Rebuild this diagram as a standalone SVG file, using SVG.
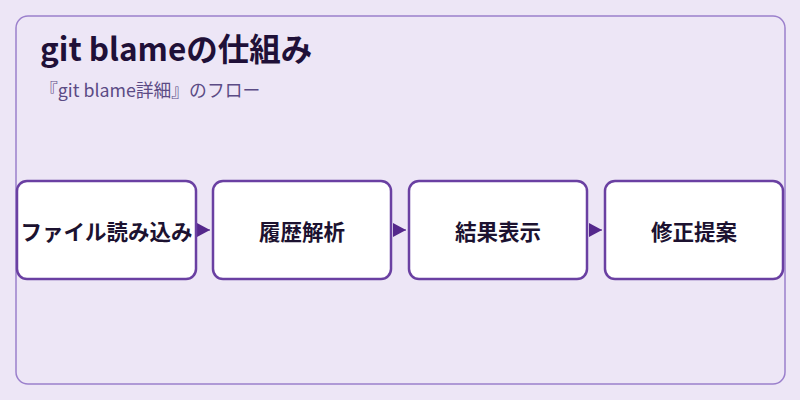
<svg xmlns="http://www.w3.org/2000/svg" width="800" height="400" viewBox="0 0 800 400">
<style>
.node rect{fill:#ffffff;stroke:#6a40a2;stroke-width:2.5}
.node text{font-family:"Noto Sans CJK JP","Noto Sans",sans-serif;font-size:21.5px;font-weight:bold;fill:#1c1230;text-anchor:middle;dominant-baseline:central}
.conn line{stroke:#55288c;stroke-width:1}
</style>
<defs>
<marker id="arr" viewBox="0 0 13 14" refX="13" refY="7" markerWidth="13" markerHeight="14" markerUnits="userSpaceOnUse" orient="auto">
<path d="M0,0 L13,7 L0,14 Z" fill="#55288c"/>
</marker>
</defs>
<rect x="0" y="0" width="800" height="400" fill="#ede6f6"/>
<rect x="16" y="16" width="769" height="368" rx="12" fill="#ede6f6" stroke="#9b80cc" stroke-width="1.5"/>
<text x="40" y="61" font-family="Noto Sans CJK JP,'Noto Sans',sans-serif" font-size="31.5" font-weight="bold" fill="#1f1038">git blameの仕組み</text>
<text x="40" y="97" font-family="Noto Sans CJK JP,'Noto Sans',sans-serif" font-size="17.8" fill="#5b4b85">『git blame詳細』のフロー</text>
<g class="conn">
<line x1="197" y1="230" x2="210" y2="230" marker-end="url(#arr)"/>
<line x1="393" y1="230" x2="406" y2="230" marker-end="url(#arr)"/>
<line x1="589" y1="230" x2="602" y2="230" marker-end="url(#arr)"/>
</g>
<g id="node1" class="node"><rect x="17" y="181" width="179" height="98" rx="10"/><text x="106.5" y="230">ファイル読み込み</text></g>
<g id="node2" class="node"><rect x="213" y="181" width="178" height="98" rx="10"/><text x="302" y="230">履歴解析</text></g>
<g id="node3" class="node"><rect x="409" y="181" width="178" height="98" rx="10"/><text x="498" y="230">結果表示</text></g>
<g id="node4" class="node"><rect x="605" y="181" width="178" height="98" rx="10"/><text x="694" y="230">修正提案</text></g>
</svg>
